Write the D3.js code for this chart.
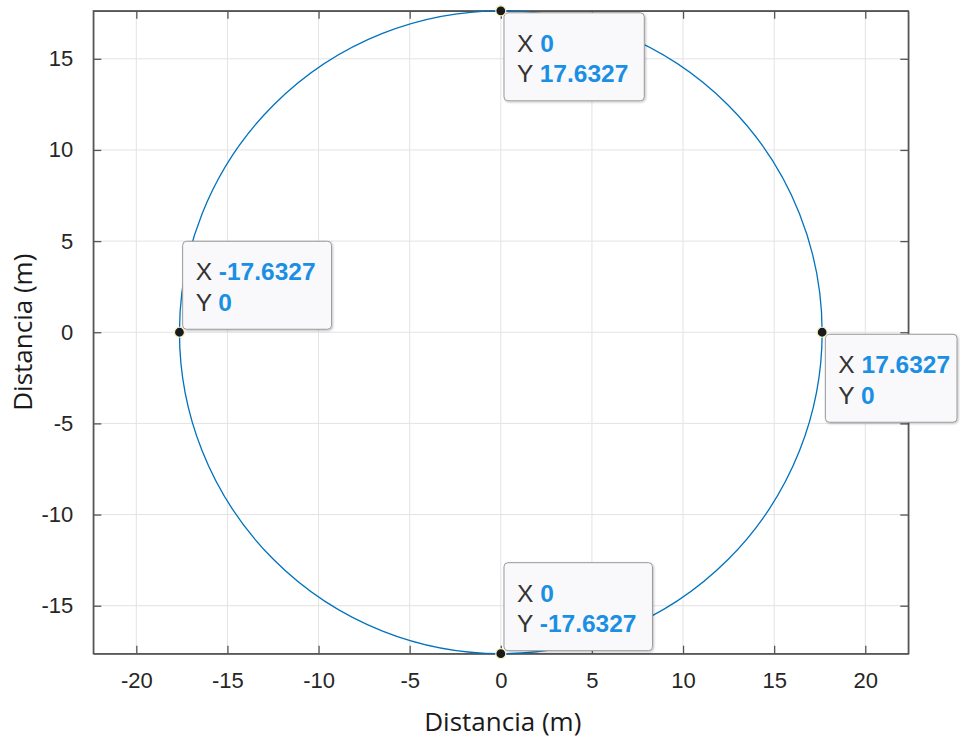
<!DOCTYPE html>
<html>
<head>
<meta charset="utf-8">
<script src="https://cdn.jsdelivr.net/npm/d3@7"></script>
<style>
  html, body { margin: 0; padding: 0; background: #ffffff; }
  svg { display: block; }
</style>
</head>
<body>
<svg id="chart" width="960" height="744"></svg>
<script>
// Circle radius (m) and axis limits
const radius = 17.6327;
const xLimits = [-22.36, 22.36];
const yLimits = [-17.6327, 17.6327];

// Tick values
const xTicks = [-20, -15, -10, -5, 0, 5, 10, 15, 20];
const yTicks = [-15, -10, -5, 0, 5, 10, 15];

// Data tips: the four extreme points of the circle
const tipX = [0, -17.6327, 17.6327, 0];
const tipY = [17.6327, 0, 0, -17.6327];
// Which side of its point each tip box sits on
const tipSide = ["below", "above", "below", "above"];

const xLabel = "Distancia (m)";
const yLabel = "Distancia (m)";

const svg = d3.select("#chart");
const plot = { left: 93.3, right: 908.3, top: 10.8, bottom: 653.7 };

const x = d3.scaleLinear().domain(xLimits).range([plot.left, plot.right]);
const y = d3.scaleLinear().domain(yLimits).range([plot.bottom, plot.top]);

const axisColor = "#555555";
const gridColor = "#e3e3e3";
const tickFont = "'Liberation Sans', Arial, Helvetica, sans-serif";
const intFmt = d => String(d);           // plain hyphen-minus, as MATLAB prints it

// Grid lines
const grid = svg.append("g");
grid.selectAll("line.gx").data(xTicks).join("line")
  .attr("x1", d => x(d)).attr("x2", d => x(d))
  .attr("y1", plot.top).attr("y2", plot.bottom)
  .attr("stroke", gridColor).attr("stroke-width", 1);
grid.selectAll("line.gy").data(yTicks).join("line")
  .attr("y1", d => y(d)).attr("y2", d => y(d))
  .attr("x1", plot.left).attr("x2", plot.right)
  .attr("stroke", gridColor).attr("stroke-width", 1);

// Axes (box on, ticks pointing inward on all four sides)
const tickLen = 8;
function styleAxis(g) {
  g.select(".domain").attr("stroke", axisColor).attr("stroke-width", 1.3);
  g.selectAll(".tick line").attr("stroke", axisColor).attr("stroke-width", 1.3);
  g.selectAll(".tick text")
    .attr("fill", "#262626")
    .attr("font-family", tickFont)
    .attr("font-size", 22);
}

svg.append("g")
  .attr("transform", `translate(0,${plot.bottom})`)
  .call(d3.axisBottom(x).tickValues(xTicks).tickSizeInner(-tickLen).tickSizeOuter(0).tickPadding(19)
    .tickFormat(intFmt))
  .call(styleAxis)
  .call(g => g.selectAll(".tick text").attr("dy", "0.71em"));

svg.append("g")
  .attr("transform", `translate(0,${plot.top})`)
  .call(d3.axisTop(x).tickValues(xTicks).tickSizeInner(-tickLen).tickSizeOuter(0).tickFormat(""))
  .call(styleAxis);

svg.append("g")
  .attr("transform", `translate(${plot.left},0)`)
  .call(d3.axisLeft(y).tickValues(yTicks).tickSizeInner(-tickLen).tickSizeOuter(0).tickPadding(20)
    .tickFormat(intFmt))
  .call(styleAxis);

svg.append("g")
  .attr("transform", `translate(${plot.right},0)`)
  .call(d3.axisRight(y).tickValues(yTicks).tickSizeInner(-tickLen).tickSizeOuter(0).tickFormat(""))
  .call(styleAxis);

// Close the box at the corners
svg.append("rect")
  .attr("x", plot.left).attr("y", plot.top)
  .attr("width", plot.right - plot.left).attr("height", plot.bottom - plot.top)
  .attr("fill", "none").attr("stroke", axisColor).attr("stroke-width", 1.3);

// The circle
svg.append("ellipse")
  .attr("cx", x(0)).attr("cy", y(0))
  .attr("rx", x(radius) - x(0))
  .attr("ry", y(0) - y(radius))
  .attr("fill", "none")
  .attr("stroke", "#0072BD")
  .attr("stroke-width", 1.3);

// Axis labels
const labelFont = "'Open Sans', 'Noto Sans', sans-serif";
svg.append("text")
  .attr("x", x(0) + 2).attr("y", 731)
  .attr("text-anchor", "middle")
  .attr("font-family", labelFont).attr("font-size", 26)
  .attr("fill", "#1a1a1a")
  .text(xLabel);

svg.append("text")
  .attr("transform", `translate(32,${y(0)}) rotate(-90)`)
  .attr("text-anchor", "middle")
  .attr("font-family", labelFont).attr("font-size", 26)
  .attr("fill", "#1a1a1a")
  .text(yLabel);

// Data tips
const defs = svg.append("defs");
const shadow = defs.append("filter").attr("id", "tipShadow")
  .attr("x", "-10%").attr("y", "-10%").attr("width", "130%").attr("height", "130%");
shadow.append("feDropShadow")
  .attr("dx", 1).attr("dy", 1).attr("stdDeviation", 1.2)
  .attr("flood-color", "#000").attr("flood-opacity", 0.25);

const fmt = v => (v === 0 ? "0" : String(v));
const tips = tipX.map((vx, i) => ({ vx, vy: tipY[i], side: tipSide[i] }));

const tipLayer = svg.append("g");
const boxH = 88, padL = 13, padR = 16, rightLimit = 957;

tips.forEach(t => {
  const px = x(t.vx), py = y(t.vy);
  const g = tipLayer.append("g");
  const left = px + 3.2;
  const top = t.side === "below" ? py + 2 : py - 3 - boxH;

  const box = g.append("rect")
    .attr("x", left).attr("y", top).attr("height", boxH)
    .attr("rx", 4).attr("ry", 4)
    .attr("fill", "#f9f9fc")
    .attr("stroke", "#9a9a9a").attr("stroke-width", 1)
    .attr("filter", "url(#tipShadow)");

  const rows = [["X", t.vx], ["Y", t.vy]];
  let maxW = 0;
  rows.forEach((r, j) => {
    const txt = g.append("text")
      .attr("x", left + padL).attr("y", top + 39 + j * 30.5)
      .attr("font-family", tickFont).attr("font-size", 24.5);
    txt.append("tspan").attr("fill", "#333333").text(r[0] + " ");
    txt.append("tspan").attr("fill", "#1a8fe3").attr("font-weight", "bold").text(fmt(r[1]));
    maxW = Math.max(maxW, txt.node().getComputedTextLength());
  });
  const w = Math.min(maxW + padL + padR, rightLimit - left);
  box.attr("width", w);
});

// Markers on top
tipLayer.selectAll("circle").data(tips).join("circle")
  .attr("cx", d => x(d.vx)).attr("cy", d => y(d.vy))
  .attr("r", 5)
  .attr("fill", "#1a1a1a")
  .attr("stroke", "#f4f1c8").attr("stroke-width", 1.2);
</script>
</body>
</html>
